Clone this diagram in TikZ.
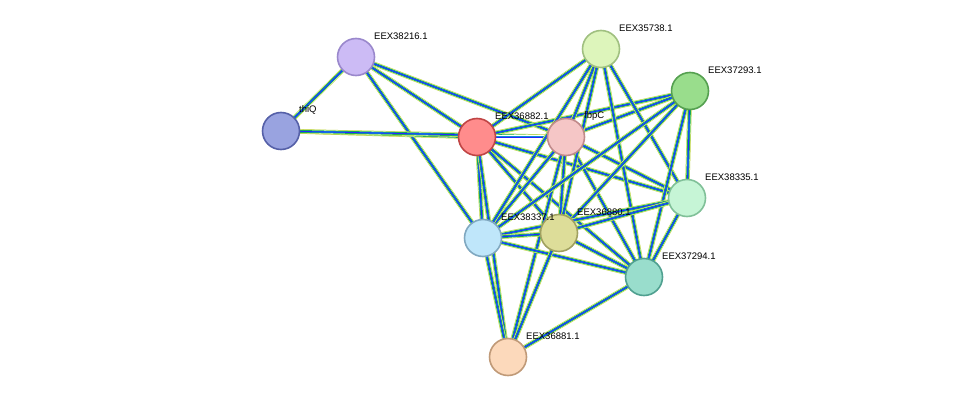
\documentclass[tikz,border=0pt]{standalone}
\usepackage{fontspec}
\setmainfont{Liberation Sans}
\usetikzlibrary{calc}
\tikzset{
    prot/.style={circle, draw, line width=1.6pt, minimum size=37pt, inner sep=0pt},
    lbl/.style={anchor=west, font=\fontsize{9.5}{11}\selectfont, inner sep=0pt},
    edgeA/.style={draw=yellow!75!green!90!black, line width=4.4pt},
    edgeW/.style={draw=white, line width=3.4pt},
    edgeB/.style={draw=green!70!black!90, line width=2.8pt},
    edgeC/.style={draw=cyan!75!blue, line width=1.8pt},
    edgeD/.style={draw=blue!85, line width=0.8pt}
}
\newcommand\lnk[2]{%
    \draw[edgeA] (#1) -- (#2);
    \draw[edgeW] (#1) -- (#2);
    \draw[edgeB] (#1) -- (#2);
    \draw[edgeC] (#1) -- (#2);
    \draw[edgeD] (#1) -- (#2);
}
\begin{document}
\begin{tikzpicture}[x=1pt, y=-1pt]
    \useasboundingbox (0,0) rectangle (976,403);
    % protein positions
    \coordinate (p38216) at (356,57);
    \coordinate (pthiQ) at (281,131);
    \coordinate (p36882) at (477,137);
    \coordinate (pfbpC) at (566,137);
    \coordinate (p35738) at (601,49);
    \coordinate (p37293) at (690,91);
    \coordinate (p38335) at (687,198);
    \coordinate (p38337) at (483,238);
    \coordinate (p36880) at (559,233);
    \coordinate (p37294) at (644,277);
    \coordinate (p36881) at (508,357);

    % links
    \foreach \a/\b in {38216/thiQ, 38216/36882, 38216/fbpC, 38216/38337,
        thiQ/36882, thiQ/fbpC, 36882/fbpC, 36882/35738, 36882/37293,
        36882/38335, 36882/38337, 36882/36880, 36882/37294, 36882/36881,
        fbpC/35738, fbpC/37293, fbpC/38335, fbpC/38337, fbpC/36880,
        fbpC/37294, fbpC/36881, 35738/38337, 35738/36880, 35738/37294,
        35738/38335, 37293/38337, 37293/36880, 37293/38335, 37293/37294,
        38335/38337, 38335/36880, 38335/37294, 38337/36880, 38337/37294,
        38337/36881, 36880/37294, 36880/36881, 37294/36881}
        {\lnk{p\a}{p\b}}

    % proteins
    \foreach \n/\fc/\dc/\t in {38216/{ccbbf5}/{9a88cc}/EEX38216.1,
        thiQ/{99a3e0}/{5560a8}/thiQ,
        36882/{ff8c8c}/{c04545}/EEX36882.1,
        fbpC/{f5c6c6}/{c08a8a}/fbpC,
        35738/{ddf5bb}/{a0c080}/EEX35738.1,
        37293/{99dd8c}/{55a050}/EEX37293.1,
        38335/{c6f5d6}/{80c098}/EEX38335.1,
        38337/{bfe6fa}/{80a8c0}/EEX38337.1,
        36880/{dddd99}/{a0a060}/EEX36880.1,
        37294/{99ddcc}/{50a090}/EEX37294.1,
        36881/{fcd9bb}/{c09a78}/EEX36881.1}
    {
        \definecolor{fc}{HTML}{\fc}
        \definecolor{dc}{HTML}{\dc}
        \node[prot, fill=fc, draw=dc] (n\n) at (p\n) {};
    }
    \foreach \n/\t in {38216/EEX38216.1, thiQ/thiQ, 36882/EEX36882.1,
        fbpC/fbpC, 35738/EEX35738.1, 37293/EEX37293.1, 38335/EEX38335.1,
        38337/EEX38337.1, 36880/EEX36880.1, 37294/EEX37294.1, 36881/EEX36881.1}
        \node[lbl] (l\n) at ($(p\n)+(18,-21)$) {\t};
\end{tikzpicture}
\end{document}
